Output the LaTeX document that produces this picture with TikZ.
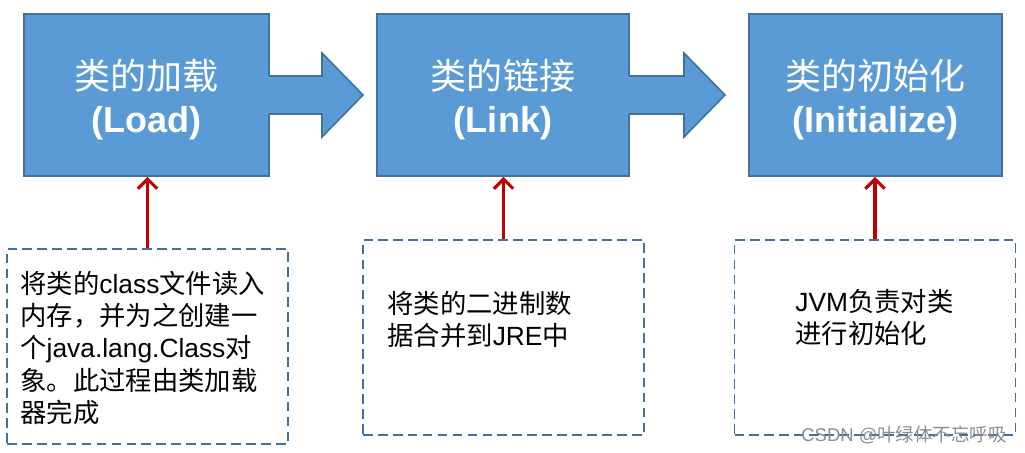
\documentclass[tikz,border=0pt]{standalone}
\usepackage{fontspec}
\setmainfont{Liberation Sans}
\newfontfamily\cjk{Noto Sans CJK SC}
\usepackage{tikz}
\usetikzlibrary{positioning}
\usetikzlibrary{arrows.meta}

\definecolor{boxblue}{HTML}{5B9BD5}
\definecolor{boxline}{HTML}{41719C}
\definecolor{upred}{HTML}{C00000}
\newcommand{\zh}[1]{{\cjk #1}}

\tikzset{
  stagebox/.style={draw=boxline, fill=boxblue, line width=0.9pt, minimum height=3.24cm,
    text=white, align=center, inner sep=0pt, font=\fontsize{20.5}{24.5}\selectfont},
  stagetitle/.style={text=white, align=center, inner sep=0pt, font=\fontsize{20.5}{24.5}\selectfont},
  descbox/.style={draw=boxline, line width=0.9pt, dash pattern=on 5.5pt off 3pt,
    minimum width=5.62cm, minimum height=3.9cm, inner sep=0pt},
  desctext/.style={anchor=north west, align=left, inner sep=0pt,
    font=\fontsize{15}{18.3}\selectfont},
  uparrow/.style={draw=upred, line width=1.8pt, -{Straight Barb[length=5.5pt,width=11pt]}},
  blockarrow/.style={fill=boxblue},
  blockedge/.style={draw=boxline, line width=0.9pt}
}

\begin{document}
\begin{tikzpicture}[x=0.02cm,y=-0.02cm]
  \useasboundingbox (0,0) rectangle (1025,453);

  % stages
  \node[stagebox, minimum width=4.9cm] (load) at (146.5,95) {};
  \node[stagebox, minimum width=5.04cm] (link) at (503,95) {};
  \node[stagebox, minimum width=5.06cm] (init) at (875.5,95) {};
  \node[stagetitle] (loadtitle) at (146.5,100) {\zh{类的加载}\\\textbf{(Load)}};
  \node[stagetitle] (linktitle) at (503,100) {\zh{类的链接}\\\textbf{(Link)}};
  \node[stagetitle] (inittitle) at (875.5,100) {\zh{类的初始化}\\\textbf{(Initialize)}};

  % block arrows between the stages
  \fill[blockarrow] (268,76) -- (322,76) -- (322,53) -- (363,95) -- (322,137) -- (322,114) -- (268,114) -- cycle;
  \draw[blockedge] (269,76) -- (322,76) -- (322,53) -- (363,95) -- (322,137) -- (322,114) -- (269,114);
  \fill[blockarrow] (628,76) -- (684,76) -- (684,53) -- (725,95) -- (684,137) -- (684,114) -- (628,114) -- cycle;
  \draw[blockedge] (629,76) -- (684,76) -- (684,53) -- (725,95) -- (684,137) -- (684,114) -- (629,114);

  % descriptions
  \node[descbox] (loaddesc) at (147.5,346.5) {};
  \node[descbox] (linkdesc) at (503.5,337.5) {};
  \node[descbox] (initdesc) at (875,337.5) {};

  \node[desctext] (loadtext) at (20,271) {\zh{将类的}class\zh{文件读入}\\
    \zh{内存，并为之创建一}\\
    \zh{个}java.lang.Class\zh{对}\\
    \zh{象。此过程由类加载}\\
    \zh{器完成}};
  \node[desctext] (linktext) at (387,291) {\zh{将类的二进制数}\\
    \zh{据合并到}JRE\zh{中}};
  \node[desctext] (inittext) at (795,289) {JVM\zh{负责对类}\\
    \zh{进行初始化}};

  \draw[uparrow] (loaddesc.north) -- (loaddesc.north |- load.south);
  \draw[uparrow] (linkdesc.north) -- (linkdesc.north |- link.south);
  \draw[uparrow] (initdesc.north) -- (initdesc.north |- init.south);

  \node[text=black!45, font=\fontsize{10.5}{12}\selectfont, inner sep=0pt] (mark) at (904,435) {CSDN @\zh{叶绿体不忘呼吸}};
\end{tikzpicture}
\end{document}
